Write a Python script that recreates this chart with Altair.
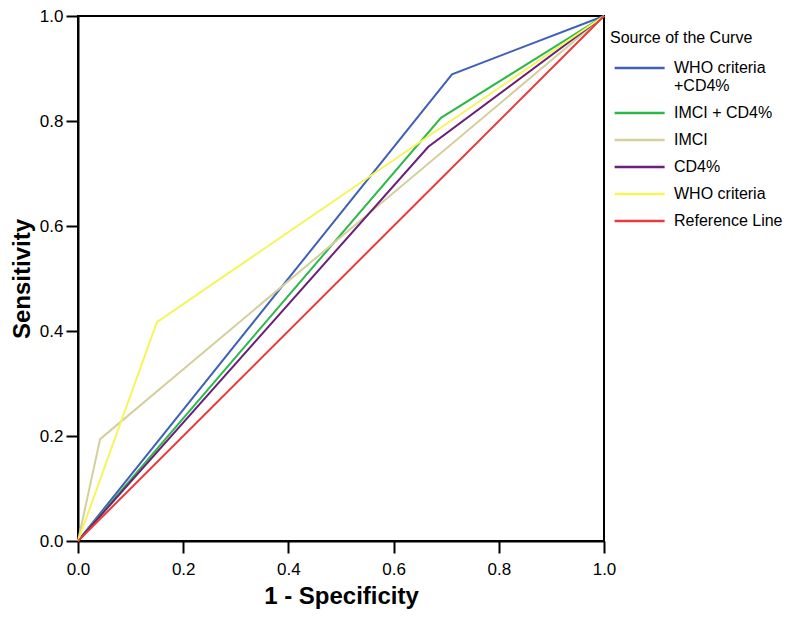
import altair as alt
import pandas as pd

series = ["WHO criteria +CD4%", "IMCI + CD4%", "IMCI", "CD4%", "WHO criteria", "Reference Line"]
colors = ["#4060B8", "#2DB84A", "#D4CF9C", "#6A1F7A", "#F5F55A", "#E83A3A"]

x_who_cd4 = [0.0, 0.711, 1.0]
y_who_cd4 = [0.0, 0.889, 1.0]
x_imci_cd4 = [0.0, 0.690, 1.0]
y_imci_cd4 = [0.0, 0.806, 1.0]
x_imci = [0.0, 0.042, 1.0]
y_imci = [0.0, 0.194, 1.0]
x_cd4 = [0.0, 0.666, 1.0]
y_cd4 = [0.0, 0.751, 1.0]
x_who = [0.0, 0.150, 1.0]
y_who = [0.0, 0.417, 1.0]
x_ref = [0.0, 1.0]
y_ref = [0.0, 1.0]

xs = [x_who_cd4, x_imci_cd4, x_imci, x_cd4, x_who, x_ref]
ys = [y_who_cd4, y_imci_cd4, y_imci, y_cd4, y_who, y_ref]

rows = []
for k, (name, xv, yv) in enumerate(zip(series, xs, ys)):
    for i, (a, b) in enumerate(zip(xv, yv)):
        rows.append({"series": name, "x": a, "y": b, "ord": i, "layer": k})
df = pd.DataFrame(rows)

FONT = "Liberation Sans"

chart = alt.Chart(df).mark_line(strokeWidth=2).encode(
    x=alt.X("x:Q", scale=alt.Scale(domain=[0, 1], nice=False, zero=False),
            axis=alt.Axis(title="1 - Specificity", values=[0, 0.2, 0.4, 0.6, 0.8, 1.0], format=".1f",
                          labelFlush=False, labelPadding=8)),
    y=alt.Y("y:Q", scale=alt.Scale(domain=[0, 1], nice=False, zero=False),
            axis=alt.Axis(title="Sensitivity", values=[0, 0.2, 0.4, 0.6, 0.8, 1.0], format=".1f",
                          labelFlush=False, labelPadding=3)),
    color=alt.Color("series:N", scale=alt.Scale(domain=series, range=colors),
                    legend=alt.Legend(
                        title="Source of the Curve",
                        orient="none", legendX=532, legendY=14,
                        symbolType="M-0.75,0H3.25", symbolSize=625, symbolStrokeWidth=2.5,
                        labelExpr="datum.label == 'WHO criteria +CD4%' ? ['WHO criteria', '+CD4%'] : datum.label",
                        labelFontSize=16, titleFontSize=16, titleFontWeight="normal",
                        labelFont=FONT, titleFont=FONT, labelColor="black", titleColor="black",
                        labelOffset=36, rowPadding=5, titlePadding=8, labelLimit=300,
                    )),
    order=alt.Order("ord:Q"),
    detail="series:N",
).properties(
    width=526, height=525,
    autosize=alt.AutoSizeParams(type="none"),
    padding={"left": 70, "top": 8, "right": 186, "bottom": 75},
).configure_view(
    stroke="black", strokeWidth=2
).configure_axis(
    grid=False, domainColor="black", domainWidth=2, tickColor="black", tickWidth=2, tickSize=12,
    labelFont=FONT, labelFontSize=17, labelColor="black",
    titleFont=FONT, titleFontSize=24, titleFontWeight="bold", titleColor="black",
).configure_axisX(titlePadding=7).configure_axisY(titlePadding=5)

chart.save("out.html", embed_options={"renderer": "svg", "actions": False})
